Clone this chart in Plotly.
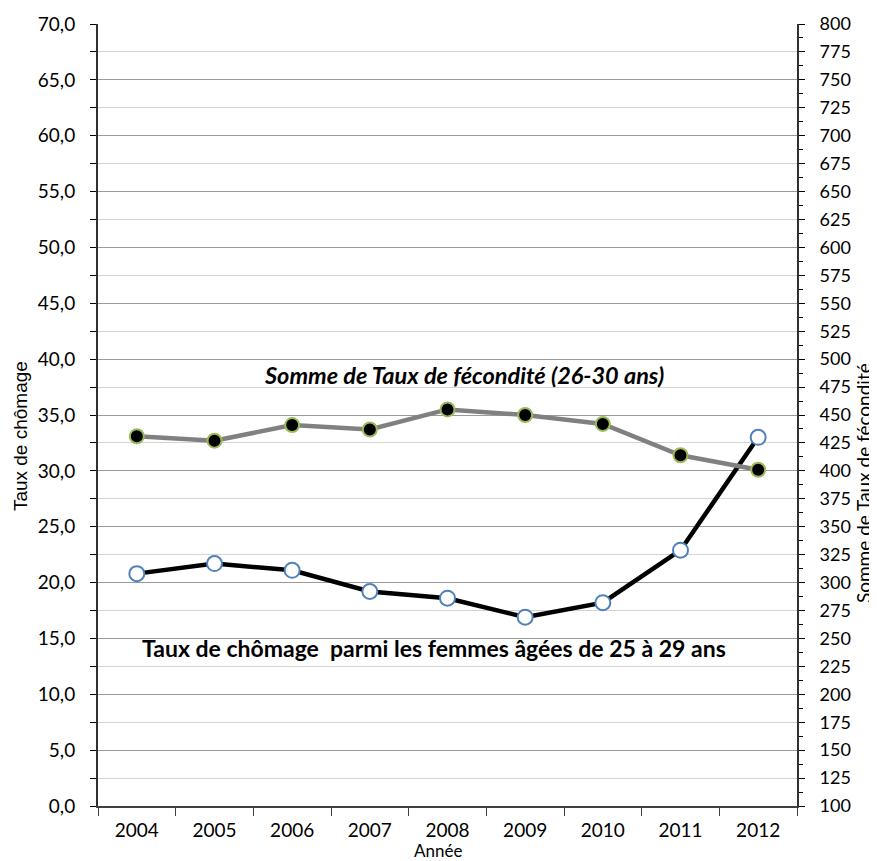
import plotly.graph_objects as go

annees = ["2004", "2005", "2006", "2007", "2008", "2009", "2010", "2011", "2012"]
chomage = [20.8, 21.7, 21.1, 19.2, 18.6, 16.9, 18.2, 22.9, 33.0]
fecondite = [431, 427, 441, 437, 455, 450, 442, 414, 401]

police = "Lato, Open Sans, sans-serif"

fig = go.Figure()

fig.add_trace(go.Scatter(
    x=annees, y=fecondite, yaxis="y2", mode="lines+markers",
    name="Somme de Taux de fécondité (26-30 ans)",
    line=dict(color="#808080", width=4.5),
    marker=dict(size=14, color="black", line=dict(color="#9bbb59", width=2)),
))
fig.add_trace(go.Scatter(
    x=annees, y=chomage, mode="lines+markers",
    name="Taux de chômage",
    line=dict(color="black", width=4.5),
    marker=dict(size=15, color="white", line=dict(color="#4f81bd", width=2)),
))

# la page a une marge de 8 px : on compense dans les marges
fig.update_layout(
    width=877, height=861,
    plot_bgcolor="white", paper_bgcolor="white",
    separators=", ",
    showlegend=False,
    font=dict(family=police, color="black", size=19),
    margin=dict(l=90, r=88, t=16, b=63),
    xaxis=dict(
        type="category", range=[-0.5, 8.5], automargin=False,
        tickson="boundaries", ticks="outside", ticklen=8, tickcolor="#404040",
        showline=True, linecolor="#404040", linewidth=2, showgrid=False,
        tickfont=dict(size=19),
        ticklabelstandoff=6,
    ),
    yaxis=dict(
        range=[0, 70], dtick=5, tickformat=".1f", automargin=False,
        ticks="outside", ticklen=6, tickcolor="black",
        showline=True, linecolor="#303030", linewidth=2,
        showgrid=True, gridcolor="#9a9a9a", gridwidth=1,
        zeroline=False,
        minor=dict(dtick=2.5, ticks="outside", ticklen=6, tickcolor="black",
                   showgrid=True, gridcolor="#d4d4d4"),
        tickfont=dict(size=19),
        ticklabelstandoff=11,
    ),
    yaxis2=dict(
        range=[100, 800], dtick=25, overlaying="y", side="right", automargin=False,
        ticks="outside", ticklen=6, tickcolor="black",
        showline=True, linecolor="#303030", linewidth=2,
        showgrid=False, zeroline=False,
        minor=dict(dtick=12.5, ticks="outside", ticklen=4, tickcolor="black"),
        tickfont=dict(size=18),
        ticklabelstandoff=11,
    ),
)

# titres d'axes placés comme dans l'original
fig.add_annotation(text="Taux de chômage", xref="paper", yref="paper", x=0, y=0.473,
                   xanchor="center", yanchor="middle",
                   xshift=-78, textangle=-90, showarrow=False,
                   font=dict(size=19, family="Liberation Sans, Arial"))
fig.add_annotation(text="Somme de Taux de fécondité", xref="paper", yref="paper", x=1, y=0.413,
                   xanchor="center", yanchor="middle",
                   xshift=66, textangle=-90, showarrow=False, font=dict(size=19))
fig.add_annotation(text="Année", xref="paper", yref="paper", x=0.487, y=0,
                   xanchor="center", yanchor="middle",
                   yshift=-44, showarrow=False, font=dict(size=17))

fig.add_annotation(
    text="<b><i>Somme de Taux de fécondité (26-30 ans)</i></b>",
    xref="paper", yref="y", x=0.524, y=38.6, showarrow=False,
    font=dict(size=23.5, family=police),
)
fig.add_annotation(
    text="<b>Taux de chômage  parmi les femmes âgées de 25 à 29 ans</b>",
    xref="paper", yref="y", x=0.481, y=14.1, showarrow=False,
    font=dict(size=23, family=police),
)

fig.write_html("out.html")
